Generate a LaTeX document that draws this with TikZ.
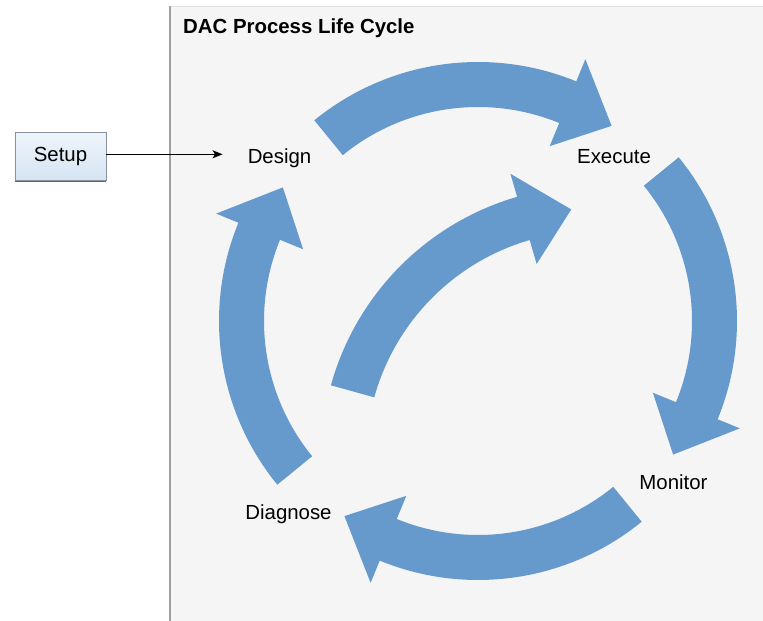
\documentclass[tikz,border=0pt]{standalone}
\usepackage{fontspec}
\setmainfont{Liberation Sans}
\usetikzlibrary{arrows.meta,calc}
\definecolor{arrowblue}{RGB}{102,154,204}
\definecolor{panelbg}{RGB}{245,245,245}
\definecolor{panelleft}{RGB}{160,160,160}
\definecolor{paneltop}{RGB}{226,226,226}
\definecolor{boxtop}{RGB}{238,244,251}
\definecolor{boxbot}{RGB}{214,228,243}
\definecolor{boxline}{RGB}{135,146,160}
% #1 centre, #2 inner radius, #3 outer radius, #4 tail angle, #5 head-base angle, #6 tip angle
\newcommand{\bandarrow}[6]{%
  \fill[arrowblue,shift={#1}]
    (#4:{#3*1pt}) arc[start angle=#4, end angle=#5, radius={#3*1pt}]
    -- (#5:{(#3+24)*1pt}) -- (#6:{(#2+#3)*0.5pt}) -- (#5:{(#2-25)*1pt})
    -- (#5:{#2*1pt}) arc[start angle=#5, end angle=#4, radius={#2*1pt}] -- cycle;}
\tikzset{
  lbl/.style={font=\fontsize{20.4}{24}\selectfont, inner sep=0pt, anchor=base},
  titlelbl/.style={font=\bfseries\fontsize{20.4}{24}\selectfont, inner sep=0pt, anchor=base west},
  setupbox/.style={draw=boxline, line width=0.8pt, top color=boxtop, bottom color=boxbot,
    minimum width=91pt, minimum height=48pt, inner sep=0pt, font=\fontsize{20.4}{24}\selectfont},
  feed/.style={line width=1pt, -{Stealth[length=10pt,width=8pt,inset=2.5pt]}}
}
\begin{document}
\begin{tikzpicture}[x=1pt,y=1pt]
\useasboundingbox (0,0) rectangle (763,621);
\fill[white] (0,0) rectangle (763,621);
% panel
\fill[panelbg] (170,0) rectangle (763,614);
\draw[paneltop, line width=1pt] (170,614) -- (763,614);
\draw[panelleft, line width=2.6pt] (170,0) -- (170,614.5);
\node[titlelbl] (title) at (183,587) {DAC Process Life Cycle};
% cycle arrows
\bandarrow{(478pt,300pt)}{214}{259}{129.2}{67.7}{55.6}
\bandarrow{(478pt,300pt)}{214}{259}{39.2}{-22.3}{-34.4}
\bandarrow{(478pt,300pt)}{214}{259}{-50.8}{-112.3}{-124.4}
\bandarrow{(478pt,300pt)}{214}{259}{-140.8}{-202.3}{-214.4}
% inner arrow
\bandarrow{(593pt,163pt)}{227}{272}{164.5}{106.2}{95}
% labels
\node[lbl] (design) at (279.5,457.7) {Design};
\node[lbl] (execute) at (614,457.5) {Execute};
\node[lbl] (monitor) at (673.5,131) {Monitor};
\node[lbl] (diagnose) at (288.5,101) {Diagnose};
% setup
\node[setupbox] (setup) at (60.5,464.3) {Setup};
\draw[boxline!70!black, line width=1pt] (setup.south west) -- (setup.south east);
\draw[feed, shorten >=25pt] ([yshift=2.4pt]setup.east) -- ([yshift=2.4pt]setup.east -| design.west);
\end{tikzpicture}
\end{document}
